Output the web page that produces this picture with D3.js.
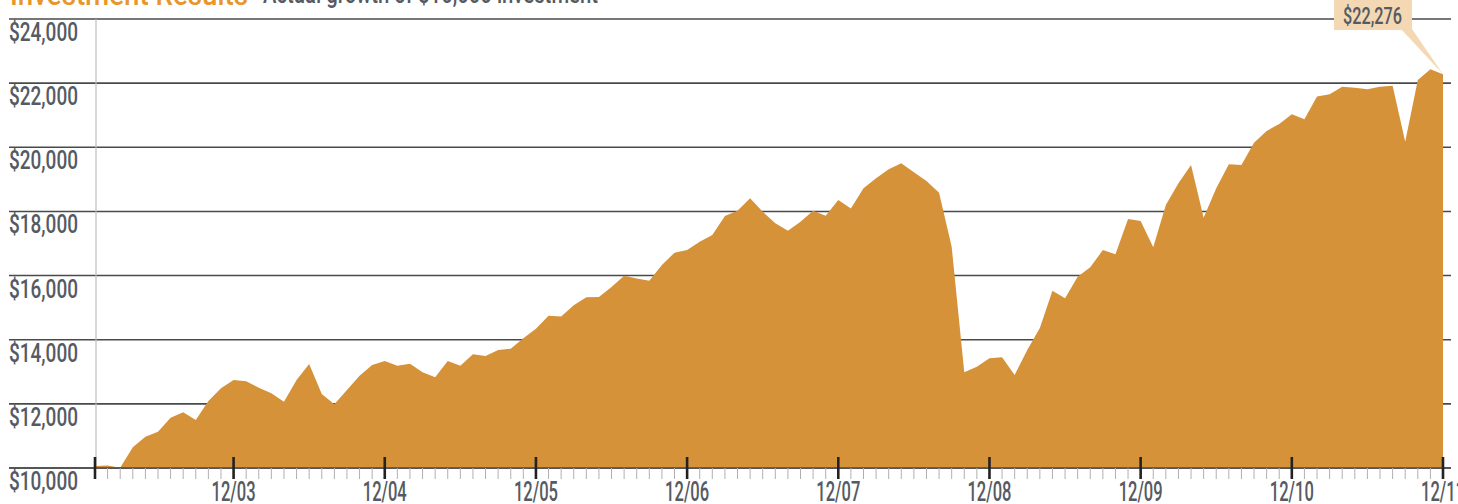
<!DOCTYPE html>
<html>
<head>
<meta charset="utf-8">
<script src="https://cdn.jsdelivr.net/npm/d3@7"></script>
<style>
  body { margin: 0; background: #fff; }
  svg { display: block; }
  text { font-family: Roboto, "Liberation Sans", sans-serif; font-weight: 500; }
</style>
</head>
<body>
<div id="chart"></div>
<script>
// growth of $10,000, month by month, 1/03 .. 12/11
const values = [
  10060, 10080, 10010, 10645, 10975, 11130, 11570, 11740, 11500, 12090, 12485, 12745,
  12705, 12505, 12330, 12065, 12745, 13245, 12305, 11985, 12430, 12880, 13210, 13335,
  13190, 13250, 12985, 12830, 13335, 13190, 13545, 13490, 13680, 13720, 14045, 14345,
  14750, 14720, 15075, 15325, 15330, 15645, 15995, 15905, 15840, 16330, 16715, 16800,
  17055, 17265, 17860, 18025, 18410, 17990, 17630, 17400, 17680, 18025, 17865, 18355,
  18095, 18720, 19035, 19315, 19500, 19220, 18950, 18585, 16900, 12985, 13160, 13420,
  13450, 12900, 13680, 14365, 15530, 15290, 15965, 16260, 16795, 16665, 17765, 17700,
  16880, 18200, 18875, 19445, 17805, 18720, 19470, 19445, 20145, 20510, 20725, 21030,
  20875, 21580, 21655, 21890, 21860, 21810, 21890, 21915, 20175, 22100, 22435, 22276
];
const yTicks = [10000, 12000, 14000, 16000, 18000, 20000, 22000, 24000];
const yearTickIdx = [11, 23, 35, 47, 59, 71, 83, 95, 107];
const yearLabels = ['12/03', '12/04', '12/05', '12/06', '12/07', '12/08', '12/09', '12/10', '12/11'];
const title = 'Investment Results';
const subtitle = 'Actual growth of $10,000 investment';
const endLabel = '$22,276';

const W = 1458, H = 504;
const textGray = '#555a63';
const svg = d3.select('#chart').append('svg').attr('width', W).attr('height', H);

// scales
const x = d3.scaleLinear().domain([0, values.length - 1]).range([95, 1443]);
const y = d3.scaleLinear().domain([10000, 24000]).range([468, 19]);
const fmt = d3.format('$,');

// title (cut off at the top, like the source)
svg.append('text').attr('x', 10).attr('y', 5)
  .attr('font-size', 30).attr('font-weight', 'bold').attr('fill', '#e8962c')
  .attr('textLength', 238).attr('lengthAdjust', 'spacingAndGlyphs').text(title);
svg.append('text').attr('x', 263).attr('y', 3)
  .attr('font-size', 25).attr('fill', textGray)
  .attr('textLength', 335).attr('lengthAdjust', 'spacingAndGlyphs').text(subtitle);

// gridlines
svg.append('g').selectAll('line').data(yTicks).join('line')
  .attr('x1', 9).attr('x2', 1451)
  .attr('y1', d => y(d)).attr('y2', d => y(d))
  .attr('stroke', '#4a4a4a').attr('stroke-width', 1.6);

// y labels sit just below each gridline
svg.append('g').selectAll('text').data(yTicks).join('text')
  .attr('x', 9).attr('y', d => y(d) + 22)
  .attr('font-size', 26).attr('fill', textGray)
  .attr('textLength', 69).attr('lengthAdjust', 'spacingAndGlyphs')
  .text(d => fmt(d));

// vertical axis line
svg.append('line').attr('x1', 96).attr('x2', 96).attr('y1', y(24000)).attr('y2', y(10000))
  .attr('stroke', '#bdbdbd').attr('stroke-width', 1.2);

// area
const area = d3.area()
  .x((d, i) => x(i))
  .y0(y(10000))
  .y1(d => y(d));
svg.append('path').datum(values).attr('d', area).attr('fill', '#d59238');

// x axis: monthly minor ticks + yearly major ticks
svg.append('line').attr('x1', 9).attr('x2', 1451).attr('y1', y(10000)).attr('y2', y(10000))
  .attr('stroke', '#4a4a4a').attr('stroke-width', 1.6);
svg.append('g').selectAll('line').data(d3.range(values.length)).join('line')
  .attr('x1', d => x(d)).attr('x2', d => x(d))
  .attr('y1', y(10000)).attr('y2', y(10000) + 11)
  .attr('stroke', '#b0b0b0').attr('stroke-width', 1);
svg.append('g').selectAll('line').data([0].concat(yearTickIdx)).join('line')
  .attr('x1', d => x(d)).attr('x2', d => x(d))
  .attr('y1', y(10000) - 11).attr('y2', y(10000) + 11)
  .attr('stroke', '#222').attr('stroke-width', 2.6);
svg.append('g').selectAll('text').data(yearTickIdx).join('text')
  .attr('x', d => x(d) - 22).attr('y', 501)
  .attr('font-size', 27).attr('fill', textGray)
  .attr('textLength', 44).attr('lengthAdjust', 'spacingAndGlyphs')
  .text((d, i) => yearLabels[i]);

// callout for the ending value
const last = values.length - 1;
const cx = x(last), cy = y(values[last]);
svg.append('path')
  .attr('d', `M1401,29 L1412,29 L${cx},${cy} Z`)
  .attr('fill', '#f3d8b3');
svg.append('rect').attr('x', 1334).attr('y', -2).attr('width', 78).attr('height', 32)
  .attr('fill', '#f3d8b3');
svg.append('text').attr('x', 1343).attr('y', 24)
  .attr('font-size', 24).attr('fill', textGray)
  .attr('textLength', 59).attr('lengthAdjust', 'spacingAndGlyphs')
  .text(endLabel);
</script>
</body>
</html>
